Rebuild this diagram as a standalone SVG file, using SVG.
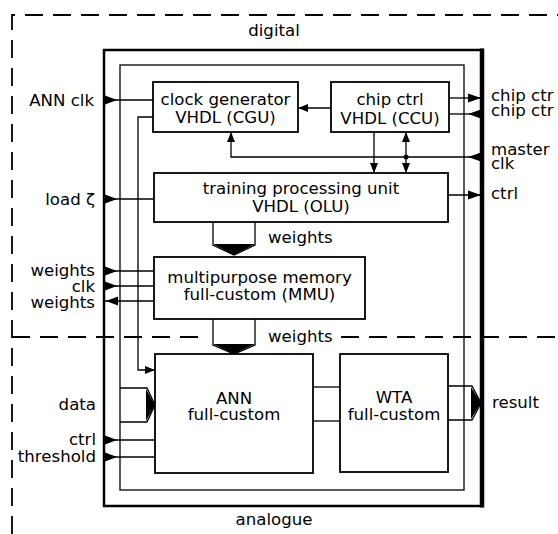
<svg xmlns="http://www.w3.org/2000/svg" width="558" height="534" viewBox="0 0 558 534">
<defs>
<style>
text{font-family:"DejaVu Sans","Liberation Sans",sans-serif;font-size:16.6px;fill:#000}
.c{text-anchor:middle}
.r{text-anchor:end}
.box{fill:#fff;stroke:#000;stroke-width:1.8}
.ln{fill:none;stroke:#000;stroke-width:1.3}
.dash{fill:none;stroke:#000;stroke-width:1.8;stroke-dasharray:18 10}
.pin{fill:#000;stroke:none}
.a{marker-end:url(#arr)}
</style>
<marker id="arr" viewBox="0 0 10 8" refX="10" refY="4" markerWidth="10" markerHeight="8" markerUnits="userSpaceOnUse" orient="auto-start-reverse">
<path d="M0,0 L10,4 L0,8 z" fill="#000"/>
</marker>
</defs>
<rect width="558" height="534" fill="#fff"/>

<g id="regions">
<path class="dash" d="M12,534 V15 H558"/>
<path class="dash" d="M12,337 H205"/>
<path class="dash" d="M341,337 H558"/>
<text class="c" x="274" y="36">digital</text>
<text class="c" x="274" y="525">analogue</text>
</g>

<g id="chip">
<rect x="104" y="50" width="378" height="456" fill="none" stroke="#000" stroke-width="2.5"/>
<line x1="482" y1="48.5" x2="482" y2="507.5" stroke="#000" stroke-width="4.5"/>
<rect x="120" y="65" width="344" height="425" class="ln"/>
</g>

<g id="connectors">
<!-- ANN clk -->
<line class="ln" x1="105" y1="100" x2="153" y2="100"/>
<polygon class="pin" points="105,95.5 105,104.5 117,100"/>
<!-- CGU to ANN clock -->
<polyline class="ln a" points="153,117 138,117 138,370 155,370"/>
<!-- CCU to CGU -->
<line class="ln a" x1="331" y1="108" x2="298" y2="108"/>
<!-- chip ctr out / in -->
<line class="ln" x1="449" y1="98" x2="481" y2="98"/>
<polygon class="pin" points="468,93.5 468,102.5 481,98"/>
<line class="ln" x1="449" y1="114" x2="481" y2="114"/>
<polygon class="pin" points="481,109.5 481,118.5 468,114"/>
<!-- master clk -->
<polyline class="ln a" points="481,157 231,157 231,132"/>
<polygon class="pin" points="481,152.5 481,161.5 468,157"/>
<line class="ln a" x1="374" y1="132" x2="374" y2="173"/>
<line class="ln a" x1="406" y1="132" x2="406" y2="173" marker-start="url(#arr)"/>
<circle cx="406" cy="157" r="2.5" fill="#000"/>
<!-- load zeta -->
<line class="ln" x1="105" y1="199" x2="154" y2="199"/>
<polygon class="pin" points="105,194.5 105,203.5 117,199"/>
<!-- ctrl out -->
<line class="ln" x1="448" y1="195" x2="481" y2="195"/>
<polygon class="pin" points="468,190.5 468,199.5 481,195"/>
<!-- weights bus OLU->MMU -->
<polyline class="ln" points="213,222 213,245 234,255 255,245 255,222"/>
<polygon class="pin" points="213,244 255,244 234,255"/>
<!-- MMU pins -->
<line class="ln" x1="105" y1="271" x2="154" y2="271"/>
<polygon class="pin" points="105,266.5 105,275.5 117,271"/>
<line class="ln" x1="105" y1="286" x2="154" y2="286"/>
<polygon class="pin" points="105,281.5 105,290.5 117,286"/>
<line class="ln" x1="105" y1="301" x2="154" y2="301"/>
<polygon class="pin" points="106,301 118,296.5 118,305.5"/>
<!-- weights bus MMU->ANN -->
<polyline class="ln" points="213,319 213,345 234,354 255,345 255,319"/>
<polygon class="pin" points="213,344 255,344 234,354"/>
<!-- data bus -->
<polyline class="ln" points="120,388 147,388 155,405 147,422 120,422"/>
<polygon class="pin" points="146,389 155,405 146,421"/>
<!-- ctrl / threshold -->
<line class="ln" x1="105" y1="440" x2="155" y2="440"/>
<polygon class="pin" points="105,435.5 105,444.5 117,440"/>
<line class="ln" x1="105" y1="457" x2="155" y2="457"/>
<polygon class="pin" points="105,452.5 105,461.5 117,457"/>
<!-- ANN - WTA -->
<line class="ln" x1="313" y1="387" x2="340" y2="387"/>
<line class="ln" x1="313" y1="421" x2="340" y2="421"/>
<!-- result bus -->
<polyline class="ln" points="448,386 472,386 481,403 472,420 448,420"/>
<polygon class="pin" points="471,387 481,403 471,419"/>
</g>

<g id="CGU">
<rect class="box" x="153" y="82" width="145" height="50"/>
<text class="c" x="225.5" y="105">clock generator</text>
<text class="c" x="225.5" y="123">VHDL (CGU)</text>
</g>
<g id="CCU">
<rect class="box" x="331" y="82" width="118" height="50"/>
<text class="c" x="390" y="105">chip ctrl</text>
<text class="c" x="390" y="124">VHDL (CCU)</text>
</g>
<g id="OLU">
<rect class="box" x="154" y="173" width="294" height="49"/>
<text class="c" x="301" y="194">training processing unit</text>
<text class="c" x="301" y="212">VHDL (OLU)</text>
</g>
<g id="MMU">
<rect class="box" x="154" y="257" width="211" height="62"/>
<text class="c" x="259.5" y="283">multipurpose memory</text>
<text class="c" x="259.5" y="300">full-custom (MMU)</text>
</g>
<g id="ANN">
<rect class="box" x="155" y="354" width="158" height="119"/>
<text class="c" x="234" y="404">ANN</text>
<text class="c" x="234" y="420">full-custom</text>
</g>
<g id="WTA">
<rect class="box" x="340" y="354" width="108" height="118"/>
<text class="c" x="394" y="403">WTA</text>
<text class="c" x="394" y="420">full-custom</text>
</g>

<g id="labels">
<text x="268" y="243">weights</text>
<text x="268" y="342">weights</text>
<text class="r" x="94" y="106">ANN clk</text>
<text class="r" x="95" y="205">load ζ</text>
<text class="r" x="95" y="276">weights</text>
<text class="r" x="95" y="292">clk</text>
<text class="r" x="95" y="308">weights</text>
<text class="r" x="96" y="410">data</text>
<text class="r" x="96" y="445">ctrl</text>
<text class="r" x="96" y="462">threshold</text>
<text x="491" y="101">chip ctr</text>
<text x="491" y="116">chip ctr</text>
<text x="491" y="155">master</text>
<text x="491" y="169">clk</text>
<text x="491" y="199">ctrl</text>
<text x="492" y="408">result</text>
</g>
</svg>
